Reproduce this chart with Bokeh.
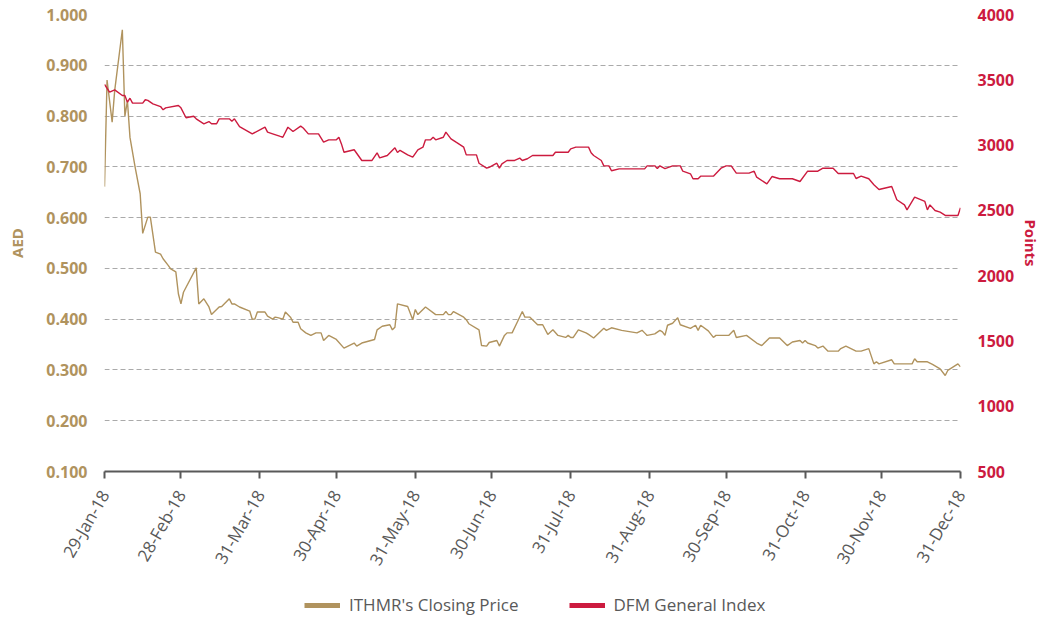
import math
import pandas as pd
from bokeh.plotting import figure
from bokeh.layouts import column
from bokeh.models import (Range1d, LinearAxis, FixedTicker, NumeralTickFormatter,
                          DatetimeTickFormatter, Legend, LegendItem)
from bokeh.embed import file_html
from bokeh.resources import INLINE

# ---------------- data ----------------
ithmr_dates = [
    "2018-01-29", "2018-01-30", "2018-02-01", "2018-02-02", "2018-02-05", "2018-02-06",
    "2018-02-07", "2018-02-08", "2018-02-10", "2018-02-12", "2018-02-13", "2018-02-15",
    "2018-02-16", "2018-02-18", "2018-02-20", "2018-02-21", "2018-02-23", "2018-02-24",
    "2018-02-26", "2018-02-27", "2018-02-28", "2018-03-01", "2018-03-06", "2018-03-07",
    "2018-03-09", "2018-03-11", "2018-03-12", "2018-03-15", "2018-03-16", "2018-03-19",
    "2018-03-20", "2018-03-21", "2018-03-23", "2018-03-27", "2018-03-28", "2018-03-29",
    "2018-03-30", "2018-04-02", "2018-04-03", "2018-04-05", "2018-04-06", "2018-04-07",
    "2018-04-09", "2018-04-10", "2018-04-12", "2018-04-13", "2018-04-15", "2018-04-16",
    "2018-04-18", "2018-04-20", "2018-04-22", "2018-04-24", "2018-04-25", "2018-04-27",
    "2018-04-30", "2018-05-03", "2018-05-07", "2018-05-08", "2018-05-10", "2018-05-15",
    "2018-05-16", "2018-05-18", "2018-05-21", "2018-05-22", "2018-05-23", "2018-05-24",
    "2018-05-28", "2018-05-30", "2018-05-31", "2018-06-01", "2018-06-04", "2018-06-08",
    "2018-06-11", "2018-06-12", "2018-06-13", "2018-06-14", "2018-06-15", "2018-06-19",
    "2018-06-20", "2018-06-21", "2018-06-25", "2018-06-26", "2018-06-28", "2018-06-29",
    "2018-07-02", "2018-07-03", "2018-07-05", "2018-07-06", "2018-07-08", "2018-07-10",
    "2018-07-12", "2018-07-13", "2018-07-15", "2018-07-18", "2018-07-20", "2018-07-22",
    "2018-07-24", "2018-07-26", "2018-07-29", "2018-07-30", "2018-07-31", "2018-08-01",
    "2018-08-03", "2018-08-06", "2018-08-07", "2018-08-09", "2018-08-13", "2018-08-14",
    "2018-08-16", "2018-08-20", "2018-08-26", "2018-08-28", "2018-08-29", "2018-08-30",
    "2018-09-02", "2018-09-04", "2018-09-05", "2018-09-06", "2018-09-07", "2018-09-09",
    "2018-09-11", "2018-09-12", "2018-09-16", "2018-09-18", "2018-09-19", "2018-09-20",
    "2018-09-23", "2018-09-25", "2018-09-26", "2018-10-01", "2018-10-03", "2018-10-04",
    "2018-10-08", "2018-10-12", "2018-10-14", "2018-10-17", "2018-10-21", "2018-10-24",
    "2018-10-26", "2018-10-29", "2018-10-30", "2018-10-31", "2018-11-01", "2018-11-04",
    "2018-11-05", "2018-11-07", "2018-11-09", "2018-11-13", "2018-11-14", "2018-11-16",
    "2018-11-20", "2018-11-22", "2018-11-25", "2018-11-27", "2018-11-28", "2018-11-29",
    "2018-12-04", "2018-12-05", "2018-12-12", "2018-12-13", "2018-12-14", "2018-12-18",
    "2018-12-20", "2018-12-23", "2018-12-25", "2018-12-26", "2018-12-30", "2018-12-31",
]
ithmr_price = [
    0.661, 0.871, 0.788, 0.850, 0.970, 0.800,
    0.830, 0.758, 0.700, 0.647, 0.569, 0.601,
    0.601, 0.532, 0.528, 0.519, 0.506, 0.499,
    0.493, 0.450, 0.430, 0.453, 0.501, 0.430,
    0.440, 0.424, 0.409, 0.424, 0.425, 0.440,
    0.430, 0.430, 0.424, 0.416, 0.400, 0.400,
    0.414, 0.414, 0.406, 0.400, 0.404, 0.403,
    0.400, 0.414, 0.404, 0.394, 0.394, 0.381,
    0.373, 0.368, 0.373, 0.373, 0.358, 0.368,
    0.360, 0.343, 0.353, 0.347, 0.353, 0.360,
    0.379, 0.386, 0.389, 0.379, 0.384, 0.430,
    0.425, 0.399, 0.419, 0.409, 0.424, 0.409,
    0.409, 0.415, 0.409, 0.409, 0.415, 0.404,
    0.399, 0.391, 0.379, 0.348, 0.347, 0.354,
    0.358, 0.347, 0.368, 0.373, 0.373, 0.394,
    0.415, 0.404, 0.404, 0.389, 0.389, 0.370,
    0.379, 0.368, 0.364, 0.368, 0.364, 0.364,
    0.379, 0.373, 0.370, 0.363, 0.382, 0.378,
    0.383, 0.378, 0.373, 0.378, 0.373, 0.368,
    0.371, 0.378, 0.375, 0.368, 0.388, 0.392,
    0.403, 0.389, 0.382, 0.388, 0.378, 0.388,
    0.377, 0.364, 0.368, 0.368, 0.378, 0.364,
    0.368, 0.353, 0.348, 0.363, 0.363, 0.348,
    0.355, 0.358, 0.353, 0.358, 0.353, 0.348,
    0.343, 0.347, 0.337, 0.337, 0.342, 0.347,
    0.337, 0.337, 0.342, 0.312, 0.316, 0.312,
    0.320, 0.312, 0.312, 0.322, 0.316, 0.316,
    0.311, 0.302, 0.289, 0.299, 0.312, 0.306,
]

dfm_dates = [
    "2018-01-29", "2018-01-31", "2018-02-02", "2018-02-05", "2018-02-06", "2018-02-07",
    "2018-02-08", "2018-02-09", "2018-02-13", "2018-02-14", "2018-02-15", "2018-02-17",
    "2018-02-20", "2018-02-21", "2018-02-22", "2018-02-27", "2018-02-28", "2018-03-02",
    "2018-03-05", "2018-03-06", "2018-03-09", "2018-03-11", "2018-03-12", "2018-03-14",
    "2018-03-15", "2018-03-19", "2018-03-20", "2018-03-21", "2018-03-23", "2018-03-28",
    "2018-04-02", "2018-04-03", "2018-04-05", "2018-04-08", "2018-04-09", "2018-04-11",
    "2018-04-13", "2018-04-16", "2018-04-17", "2018-04-19", "2018-04-23", "2018-04-25",
    "2018-04-27", "2018-04-30", "2018-05-01", "2018-05-02", "2018-05-03", "2018-05-07",
    "2018-05-10", "2018-05-14", "2018-05-16", "2018-05-17", "2018-05-20", "2018-05-23",
    "2018-05-24", "2018-05-25", "2018-05-28", "2018-05-30", "2018-06-01", "2018-06-03",
    "2018-06-04", "2018-06-06", "2018-06-07", "2018-06-08", "2018-06-11", "2018-06-12",
    "2018-06-14", "2018-06-16", "2018-06-19", "2018-06-20", "2018-06-24", "2018-06-25",
    "2018-06-28", "2018-06-29", "2018-07-02", "2018-07-03", "2018-07-04", "2018-07-06",
    "2018-07-09", "2018-07-11", "2018-07-12", "2018-07-14", "2018-07-16", "2018-07-24",
    "2018-07-25", "2018-07-30", "2018-07-31", "2018-08-02", "2018-08-07", "2018-08-08",
    "2018-08-09", "2018-08-12", "2018-08-13", "2018-08-15", "2018-08-16", "2018-08-19",
    "2018-08-29", "2018-08-30", "2018-09-02", "2018-09-03", "2018-09-04", "2018-09-06",
    "2018-09-09", "2018-09-12", "2018-09-13", "2018-09-16", "2018-09-17", "2018-09-19",
    "2018-09-20", "2018-09-25", "2018-09-28", "2018-09-30", "2018-10-02", "2018-10-04",
    "2018-10-09", "2018-10-11", "2018-10-12", "2018-10-16", "2018-10-18", "2018-10-21",
    "2018-10-26", "2018-10-29", "2018-11-01", "2018-11-05", "2018-11-07", "2018-11-11",
    "2018-11-13", "2018-11-19", "2018-11-20", "2018-11-22", "2018-11-25", "2018-11-27",
    "2018-11-29", "2018-12-04", "2018-12-06", "2018-12-09", "2018-12-10", "2018-12-13",
    "2018-12-17", "2018-12-18", "2018-12-19", "2018-12-21", "2018-12-23", "2018-12-25",
    "2018-12-30", "2018-12-31",
]
dfm_index = [
    3464, 3405, 3423, 3380, 3380, 3328,
    3359, 3321, 3321, 3347, 3342, 3316,
    3295, 3270, 3285, 3303, 3285, 3209,
    3221, 3201, 3163, 3180, 3163, 3163,
    3201, 3201, 3183, 3201, 3142, 3086,
    3137, 3099, 3086, 3066, 3060, 3137,
    3104, 3145, 3131, 3086, 3086, 3022,
    3040, 3040, 3060, 3009, 2945, 2964,
    2882, 2882, 2941, 2902, 2920, 2979,
    2943, 2960, 2925, 2907, 2964, 2984,
    3040, 3040, 3060, 3040, 3060, 3099,
    3048, 3022, 2984, 2925, 2925, 2861,
    2823, 2830, 2861, 2823, 2856, 2882,
    2882, 2900, 2882, 2895, 2920, 2920,
    2945, 2945, 2971, 2984, 2984, 2941,
    2920, 2882, 2841, 2841, 2803, 2818,
    2818, 2841, 2841, 2820, 2841, 2820,
    2841, 2841, 2800, 2780, 2742, 2742,
    2762, 2762, 2823, 2841, 2841, 2785,
    2785, 2800, 2754, 2703, 2759, 2742,
    2742, 2721, 2800, 2800, 2823, 2823,
    2782, 2782, 2744, 2762, 2742, 2696,
    2660, 2683, 2581, 2542, 2504, 2601,
    2568, 2504, 2542, 2499, 2486, 2461,
    2461, 2520,
]

x_tick_dates = ["2018-01-29", "2018-02-28", "2018-03-31", "2018-04-30", "2018-05-31",
                "2018-06-30", "2018-07-31", "2018-08-31", "2018-09-30", "2018-10-31",
                "2018-11-30", "2018-12-31"]
aed_ticks = [0.1, 0.2, 0.3, 0.4, 0.5, 0.6, 0.7, 0.8, 0.9, 1.0]
points_ticks = [500, 1000, 1500, 2000, 2500, 3000, 3500, 4000]

series_labels = ["ITHMR's Closing Price", "DFM General Index"]

# ---------------- styling ----------------
GOLD = "#B0935E"
RED = "#CC1B3F"
GREY = "#595959"
FONT = "Open Sans"
W = 1044
H_MAIN = 594
H_LEG = 22

x_ithmr = pd.to_datetime(ithmr_dates)
x_dfm = pd.to_datetime(dfm_dates)
x_ticks_ms = [float(t.value // 10**6) for t in pd.to_datetime(x_tick_dates)]

p = figure(width=W, height=H_MAIN, x_axis_type="datetime",
           x_range=Range1d(pd.Timestamp(x_tick_dates[0]), pd.Timestamp(x_tick_dates[-1])),
           y_range=Range1d(aed_ticks[0], aed_ticks[-1]),
           output_backend="svg", toolbar_location=None,
           min_border_left=104, min_border_right=84, min_border_top=14,
           min_border_bottom=H_MAIN - 471)
p.outline_line_color = None
p.extra_y_ranges = {"dfm": Range1d(points_ticks[0], points_ticks[-1])}

r1 = p.line(x=x_ithmr, y=ithmr_price, line_color=GOLD, line_width=1.4)
r2 = p.line(x=x_dfm, y=dfm_index, y_range_name="dfm", line_color=RED, line_width=1.4)

# x axis
xa = p.xaxis[0]
xa.ticker = FixedTicker(ticks=x_ticks_ms)
xa.formatter = DatetimeTickFormatter(days="%d-%b-%y", months="%d-%b-%y", years="%d-%b-%y",
                                     hours="%d-%b-%y", minutes="%d-%b-%y")
xa.major_label_orientation = math.pi / 3
xa.major_label_text_font = FONT
xa.major_label_text_font_size = "17px"
xa.major_label_text_color = GREY
xa.axis_line_color = GREY
xa.axis_line_width = 2
xa.major_tick_line_color = GREY
xa.major_tick_line_width = 2
xa.major_tick_out = 7
xa.major_tick_in = 0
xa.minor_tick_line_color = None
xa.major_label_standoff = 13

# left axis
ya = p.yaxis[0]
ya.ticker = FixedTicker(ticks=aed_ticks)
ya.formatter = NumeralTickFormatter(format="0.000")
ya.axis_label = "AED"
ya.axis_label_text_font = FONT
ya.axis_label_text_font_style = "bold"
ya.axis_label_text_font_size = "15px"
ya.axis_label_text_color = GOLD
ya.axis_label_standoff = 16
ya.major_label_text_font = FONT
ya.major_label_text_font_style = "bold"
ya.major_label_text_font_size = "16px"
ya.major_label_text_color = GOLD
ya.axis_line_color = None
ya.major_tick_line_color = None
ya.major_tick_out = 0
ya.major_tick_in = 0
ya.minor_tick_line_color = None
ya.major_label_standoff = 17

# right axis
ra = LinearAxis(y_range_name="dfm", ticker=FixedTicker(ticks=points_ticks))
ra.axis_label = "Points"
ra.axis_label_text_font = FONT
ra.axis_label_text_font_style = "bold"
ra.axis_label_text_font_size = "15px"
ra.axis_label_text_color = RED
ra.axis_label_standoff = 4
ra.major_label_text_font = FONT
ra.major_label_text_font_style = "bold"
ra.major_label_text_font_size = "16px"
ra.major_label_text_color = RED
ra.axis_line_color = None
ra.major_tick_line_color = None
ra.major_tick_out = 0
ra.major_tick_in = 0
ra.minor_tick_line_color = None
ra.major_label_standoff = 17
p.add_layout(ra, "right")

# grid
p.xgrid.grid_line_color = None
p.ygrid.grid_line_color = "#AAAAAA"
p.ygrid.grid_line_dash = "5 3"
p.ygrid.grid_line_width = 1
p.ygrid.ticker = FixedTicker(ticks=aed_ticks)

# ---------------- legend strip ----------------
# the same series are drawn here, but outside this strip's visible ranges,
# so only their legend swatches appear
lg = figure(width=W, height=H_LEG, output_backend="svg", toolbar_location=None,
            x_range=Range1d(0, 1), y_range=Range1d(0, 1),
            min_border=0, min_border_left=0, min_border_right=0,
            min_border_top=0, min_border_bottom=0)
lg.axis.visible = False
lg.grid.visible = False
lg.outline_line_color = None
s1 = lg.line(x=x_ithmr, y=ithmr_price, line_color=GOLD, line_width=5)
s2 = lg.line(x=x_dfm, y=dfm_index, line_color=RED, line_width=5)
legend = Legend(items=[LegendItem(label=series_labels[0], renderers=[s1]),
                       LegendItem(label=series_labels[1], renderers=[s2])],
                orientation="horizontal", location=(200, 0),
                glyph_width=36, glyph_height=16, label_height=16, label_standoff=9, spacing=50,
                padding=0, margin=0, border_line_color=None, background_fill_alpha=0,
                label_text_font=FONT, label_text_font_size="17px", label_text_color=GREY)
lg.add_layout(legend)

layout = column(p, lg, spacing=0)
open("out.html", "w").write(file_html(layout, INLINE))
